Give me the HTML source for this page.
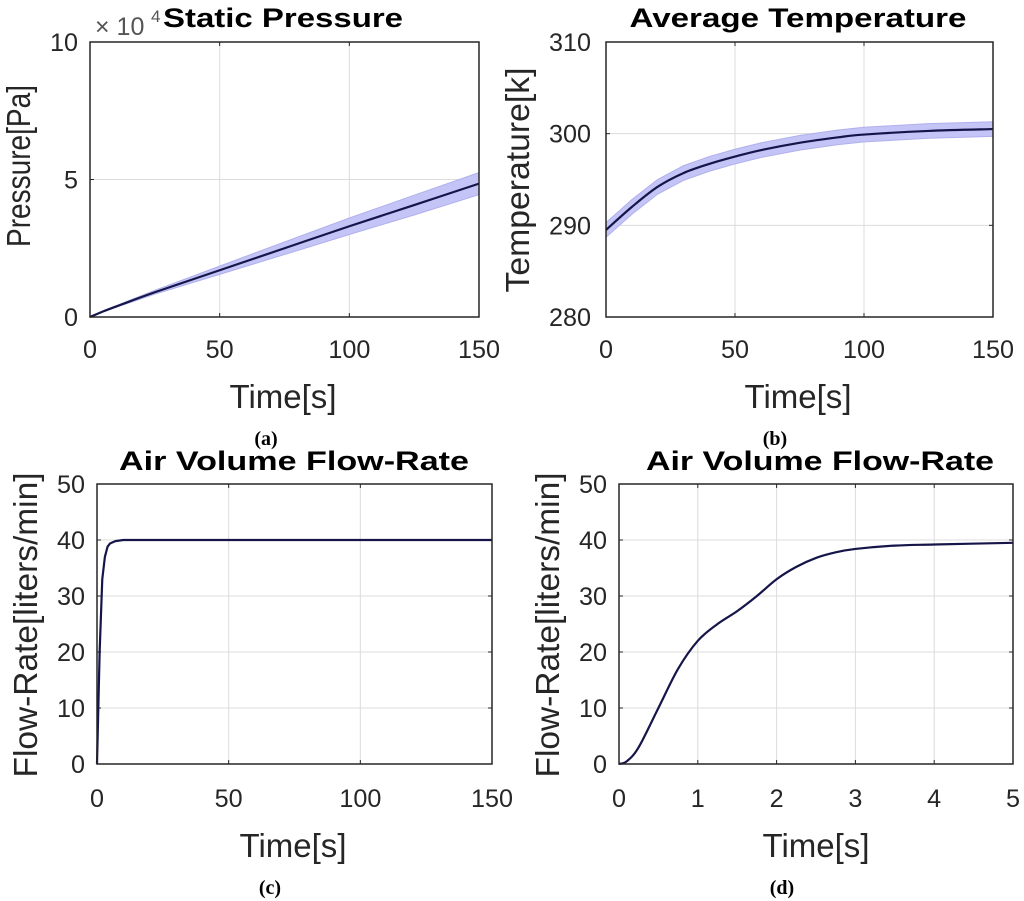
<!DOCTYPE html>
<html><head><meta charset="utf-8"><style>
body{margin:0;background:#fff;}
svg{display:block;font-family:"Liberation Sans",Arial,sans-serif;}
.tick{font-size:25px;fill:#262626;}
.lab{font-size:33px;fill:#262626;}
.ttl{font-size:27px;font-weight:bold;fill:#000;}
.sub{font-family:"Liberation Serif",serif;font-size:20px;font-weight:bold;fill:#000;}
</style></head><body>
<svg id="fig" width="1024" height="901" viewBox="0 0 1024 901">
<rect width="1024" height="901" fill="#fff"/>
</svg>
<script>
// Panel (a) static pressure (x1e4 Pa)
const timeA=[0,5,10,25,50,75,100,125,150];
const pressure=[0,0.2,0.38,0.9,1.7,2.5,3.3,4.07,4.85];
const pressureBand=[0,0.01,0.03,0.07,0.15,0.23,0.3,0.36,0.4];
// Panel (b) average temperature
const timeB=[0,10,20,30,40,50,60,75,90,100,125,150];
const temperature=[289.5,292,294.2,295.7,296.7,297.5,298.2,299.0,299.6,299.9,300.3,300.5];
const tempBand=[0.8,0.8,0.8,0.8,0.8,0.8,0.8,0.8,0.8,0.8,0.8,0.8];
// Panel (c) flow rate long
const timeC=[0,1,2,3,4,5,7,10,150];
const flowC=[0,20,33,37,38.8,39.4,39.8,40,40];
// Panel (d) flow rate short
const timeD=[0,0.1,0.25,0.5,0.75,1,1.25,1.5,1.75,2,2.25,2.5,2.75,3,3.5,4,5];
const flowD=[0,0.5,3,10,17,22,25,27.3,30,33,35.2,36.8,37.8,38.4,39,39.2,39.5];

const xt150=[0,50,100,150], xt5=[0,1,2,3,4,5];
const ytA=[0,5,10], ytB=[280,290,300,310], ytF=[0,10,20,30,40,50];

const NS="http://www.w3.org/2000/svg";
const svg=document.getElementById('fig');
function mk(tag,attrs,parent){const e=document.createElementNS(NS,tag);for(const k in attrs)e.setAttribute(k,attrs[k]);(parent||svg).appendChild(e);return e;}

function panel(cfg){
  const g=mk('g',{});
  
  
  const {x0,x1,y0,y1,xmin,xmax,ymin,ymax}=cfg;
  const sx=v=>x0+(v-xmin)/(xmax-xmin)*(x1-x0);
  const sy=v=>y1-(v-ymin)/(ymax-ymin)*(y1-y0);
  cfg.xt.forEach(t=>{const l=mk('line',{x1:sx(t),x2:sx(t),y1:y0,y2:y1,stroke:'#dcdcdc','stroke-width':1},g);
    
    mk('line',{x1:sx(t),x2:sx(t),y1:y1,y2:y1-4,stroke:'#262626'},g);mk('line',{x1:sx(t),x2:sx(t),y1:y0,y2:y0+4,stroke:'#262626'},g);
    const tx=mk('text',{x:sx(t),y:cfg.xtY,'text-anchor':'middle',class:'tick',textLength:String(t).length*14,lengthAdjust:'spacingAndGlyphs'},g);tx.textContent=t;
    });
  cfg.yt.forEach(t=>{const l=mk('line',{x1:x0,x2:x1,y1:sy(t),y2:sy(t),stroke:'#dcdcdc','stroke-width':1},g);
    
    mk('line',{x1:x0,x2:x0+4,y1:sy(t),y2:sy(t),stroke:'#262626'},g);mk('line',{x1:x1,x2:x1-4,y1:sy(t),y2:sy(t),stroke:'#262626'},g);
    const tx=mk('text',{x:cfg.ytX,y:sy(t)+9,'text-anchor':'end',class:'tick',textLength:String(t).length*14,lengthAdjust:'spacingAndGlyphs'},g);tx.textContent=t;
    });
  if(cfg.band){
    let d='';cfg.xs.forEach((x,i)=>{d+=(i?'L':'M')+sx(x)+','+sy(cfg.ys[i]+cfg.band[i]);});
    for(let i=cfg.xs.length-1;i>=0;i--)d+='L'+sx(cfg.xs[i])+','+sy(cfg.ys[i]-cfg.band[i]);
    const b=mk('path',{d:d+'Z',fill:'#c4c4f6',stroke:'#b0b0ee','stroke-width':1},g);
    
  }
  const P=cfg.xs.map((x,i)=>[sx(x),sy(cfg.ys[i])]);
  let d='M'+P[0][0]+','+P[0][1];
  for(let i=0;i<P.length-1;i++){
    if(cfg.linear){d+='L'+P[i+1][0]+','+P[i+1][1];continue;}
    const p0=P[i-1]||P[i],p1=P[i],p2=P[i+1],p3=P[i+2]||P[i+1];
    d+=`C${p1[0]+(p2[0]-p0[0])/6},${p1[1]+(p2[1]-p0[1])/6} ${p2[0]-(p3[0]-p1[0])/6},${p2[1]-(p3[1]-p1[1])/6} ${p2[0]},${p2[1]}`;}
  const ln=mk('path',{d:d,fill:'none',stroke:'#15154a','stroke-width':2.2,'stroke-linejoin':'round'},g);
  
  const fr=mk('rect',{x:x0,y:y0,width:x1-x0,height:y1-y0,fill:'none',stroke:'#262626','stroke-width':1.5},g);
  
  const t=mk('text',{x:cfg.tX,y:cfg.tY,'text-anchor':'middle',class:'ttl',textLength:cfg.tL,lengthAdjust:'spacingAndGlyphs'},g);t.textContent=cfg.title;
  
  const xl=mk('text',{x:cfg.xlX,y:cfg.xlY,'text-anchor':'middle',class:'lab',textLength:107,lengthAdjust:'spacingAndGlyphs'},g);xl.textContent='Time[s]';
  
  const yl=mk('text',{x:0,y:0,'text-anchor':'middle',class:'lab',textLength:cfg.ylL,lengthAdjust:'spacingAndGlyphs',transform:`translate(${cfg.ylX},${cfg.ylC}) rotate(-90)`},g);yl.textContent=cfg.ylabel;
  
  const sb=mk('text',{x:cfg.sbX,y:cfg.sbY,'text-anchor':'middle',class:'sub'},g);sb.textContent=cfg.sub;
  
  return g;
}
panel({name:'panel-a-static-pressure',x0:90,x1:479,y0:42,y1:317,xmin:0,xmax:150,ymin:0,ymax:10,xt:xt150,yt:ytA,xs:timeA,ys:pressure,band:pressureBand,
  xtY:358,ytX:78,title:'Static Pressure',tX:283,tY:27,tL:240,xlX:283,xlY:408,ylabel:'Pressure[Pa]',ylX:30,ylC:166,ylL:162,sub:'(a)',sbX:266,sbY:445});
const ex=mk('text',{x:95,y:35,class:'tick',style:'fill:#555'});ex.textContent='× 10';

const ex2=mk('text',{x:151,y:22,style:'font-size:17px;fill:#555'});ex2.textContent='4';

panel({name:'panel-b-average-temperature',x0:606,x1:993,y0:42,y1:317,xmin:0,xmax:150,ymin:280,ymax:310,xt:xt150,yt:ytB,xs:timeB,ys:temperature,band:tempBand,
  xtY:358,ytX:591,title:'Average Temperature',tX:798,tY:27,tL:337,xlX:798,xlY:408,ylabel:'Temperature[k]',ylX:529,ylC:180,ylL:225,sub:'(b)',sbX:775,sbY:445});
panel({name:'panel-c-flow-rate',x0:97,x1:492,y0:484,y1:764,xmin:0,xmax:150,ymin:0,ymax:50,xt:xt150,yt:ytF,xs:timeC,ys:flowC,band:null,linear:true,
  xtY:807,ytX:85,title:'Air Volume Flow-Rate',tX:294,tY:470,tL:350,xlX:293,xlY:857,ylabel:'Flow-Rate[liters/min]',ylX:37,ylC:625,ylL:305,sub:'(c)',sbX:270,sbY:894});
panel({name:'panel-d-flow-rate-zoom',x0:619,x1:1013,y0:484,y1:764,xmin:0,xmax:5,ymin:0,ymax:50,xt:xt5,yt:ytF,xs:timeD,ys:flowD,band:null,
  xtY:807,ytX:607,title:'Air Volume Flow-Rate',tX:820,tY:470,tL:348,xlX:816,xlY:857,ylabel:'Flow-Rate[liters/min]',ylX:559,ylC:625,ylL:305,sub:'(d)',sbX:782,sbY:894});
</script>
</body></html>
